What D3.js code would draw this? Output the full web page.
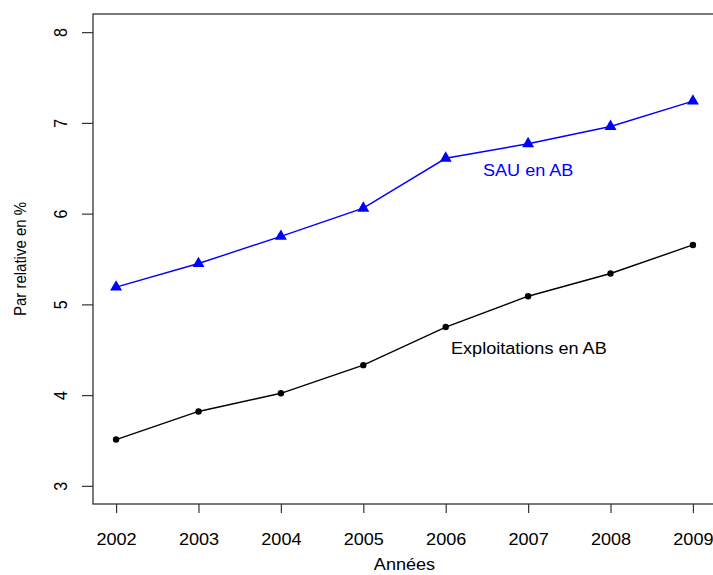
<!DOCTYPE html>
<html>
<head>
<meta charset="utf-8">
<script src="https://cdn.jsdelivr.net/npm/d3@7"></script>
<style>
  html, body { margin: 0; padding: 0; background: #fff; }
  svg { display: block; font-family: "Liberation Sans", Arial, Helvetica, sans-serif; }
</style>
</head>
<body>
<svg id="chart" width="713" height="575"></svg>
<script>
// Years on the x axis
const years = [2002, 2003, 2004, 2005, 2006, 2007, 2008, 2009];
// Share of farms in organic farming (%)
const exploitations = [3.51, 3.82, 4.02, 4.33, 4.75, 5.09, 5.34, 5.655];
// Share of utilised agricultural area in organic farming (%)
const sau = [5.19, 5.45, 5.75, 6.06, 6.61, 6.77, 6.96, 7.24];
// Axis ticks
const yTicks = [3, 4, 5, 6, 7, 8];
const xTicks = years;

const svg = d3.select("#chart");
const plotLeft = 93, plotTop = 14, plotRight = 716, plotBottom = 504;
const fontFamily = "'Liberation Sans', Arial, sans-serif";
// Glyphs are drawn slightly wide, as on the original graphics device
const wide = 1.13;

// R-style 4% padding around the data range
const x = d3.scaleLinear().domain([2001.72, 2009.28]).range([plotLeft, plotRight]);
const y = d3.scaleLinear().domain([2.8, 8.2]).range([plotBottom, plotTop]);

const axisColor = "#333";

// Plot frame
svg.append("rect")
  .attr("x", plotLeft).attr("y", plotTop)
  .attr("width", plotRight - plotLeft).attr("height", plotBottom - plotTop)
  .attr("fill", "none").attr("stroke", axisColor).attr("stroke-width", 1.3);

// X axis (ticks below the frame)
const xAxis = d3.axisBottom(x).tickValues(xTicks).tickFormat(d3.format("d"))
  .tickSize(9).tickPadding(21);
const gx = svg.append("g").attr("transform", `translate(0,${plotBottom})`).call(xAxis);
gx.select(".domain").remove();
gx.selectAll(".tick line").attr("stroke", axisColor).attr("stroke-width", 1.2);
gx.selectAll(".tick text").attr("font-size", 16).attr("fill", "#000")
  .attr("font-family", fontFamily)
  .attr("transform", `scale(${wide},1)`);

// Y axis (rotated labels, as in base R)
const yAxis = d3.axisLeft(y).tickValues(yTicks).tickFormat(d3.format("d"))
  .tickSize(11).tickPadding(0);
const gy = svg.append("g").attr("transform", `translate(${plotLeft},0)`).call(yAxis);
gy.select(".domain").remove();
gy.selectAll(".tick line").attr("stroke", axisColor).attr("stroke-width", 1.2);
gy.selectAll(".tick text")
  .attr("font-size", 16).attr("fill", "#000")
  .attr("font-family", fontFamily)
  .attr("x", null).attr("dy", null)
  .attr("text-anchor", "middle")
  .attr("transform", `translate(-26,0) rotate(-90) scale(1,${wide})`)
  .attr("y", 0);

// Axis titles
svg.append("text")
  .attr("transform", `translate(${(plotLeft + plotRight) / 2},570) scale(${wide},1)`)
  .attr("text-anchor", "middle").attr("font-size", 16).attr("fill", "#000")
  .text("Années");
svg.append("text")
  .attr("transform", `translate(26,${(plotTop + plotBottom) / 2}) rotate(-90) scale(1,${wide})`)
  .attr("text-anchor", "middle").attr("font-size", 15).attr("fill", "#000")
  .text("Par relative en %");

const line = d3.line().x((d, i) => x(years[i])).y(d => y(d));

// Organic area series (blue, triangles)
svg.append("path").datum(sau)
  .attr("d", line).attr("fill", "none")
  .attr("stroke", "#0000ff").attr("stroke-width", 1.4);
svg.append("g").selectAll("path").data(sau).join("path")
  .attr("d", d3.symbol(d3.symbolTriangle, 62)())
  .attr("transform", (d, i) => `translate(${x(years[i])},${y(d)})`)
  .attr("fill", "#0000ff");

// Organic farms series (black, dots)
svg.append("path").datum(exploitations)
  .attr("d", line).attr("fill", "none")
  .attr("stroke", "#000").attr("stroke-width", 1.4);
svg.append("g").selectAll("circle").data(exploitations).join("circle")
  .attr("cx", (d, i) => x(years[i])).attr("cy", d => y(d))
  .attr("r", 3.2).attr("fill", "#000");

// Series labels
svg.append("text")
  .attr("transform", `translate(483,176) scale(${wide},1)`)
  .attr("font-size", 16).attr("fill", "#0000ff")
  .text("SAU en AB");
svg.append("text")
  .attr("transform", `translate(451,354) scale(${wide},1)`)
  .attr("font-size", 16).attr("fill", "#000")
  .text("Exploitations en AB");
</script>
</body>
</html>
